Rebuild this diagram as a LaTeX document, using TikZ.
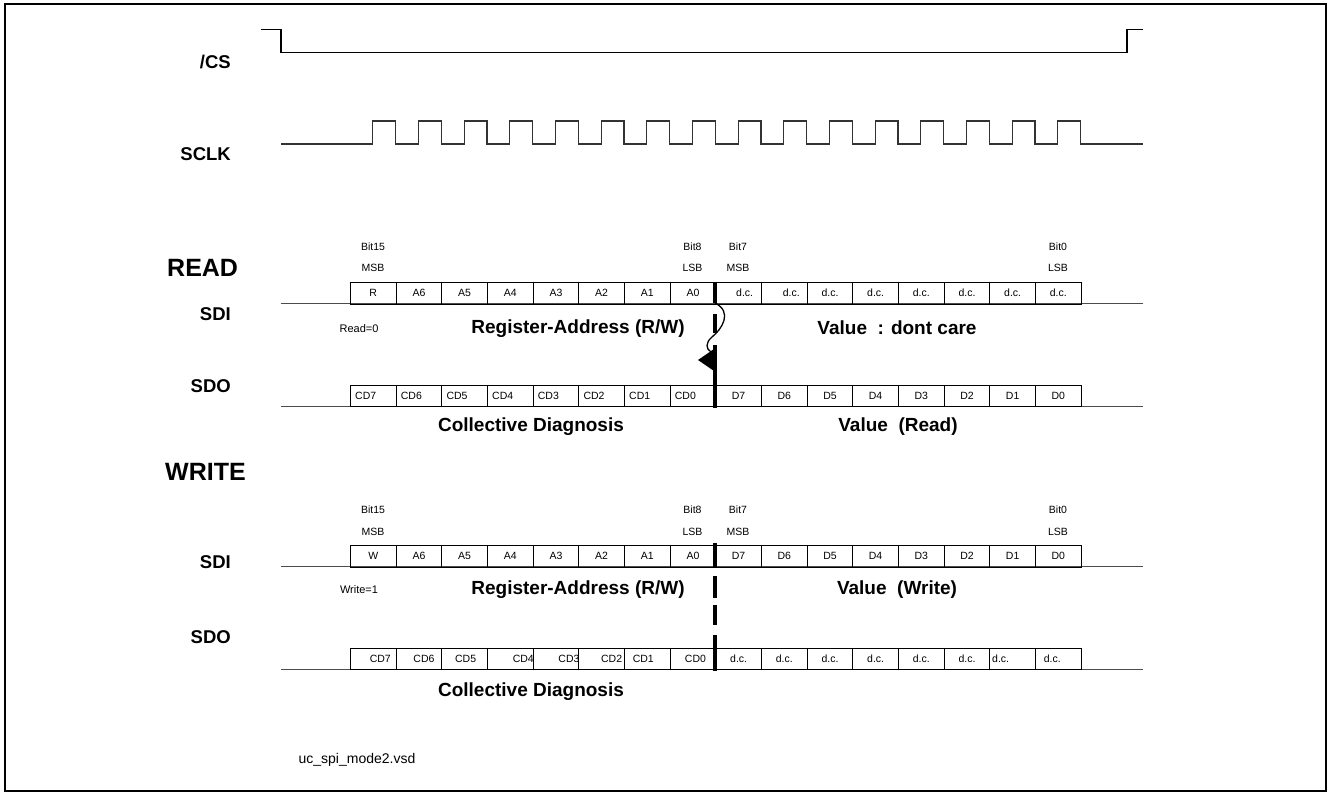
\documentclass[tikz,border=0pt]{standalone}
\usepackage{fontspec}
\setmainfont{Liberation Sans}
\usetikzlibrary{arrows.meta}
\begin{document}
\begin{tikzpicture}[x=1pt,y=-1pt,
  sig/.style={line width=1.1pt, black!80},
  base/.style={line width=1pt, black!70},
  cell/.style={draw, line width=0.9pt, minimum width=45.667pt, minimum height=21.5pt, inner sep=0pt, anchor=north west},
  ctext/.style={font=\fontsize{10.5}{12}\selectfont, inner sep=0pt},
  lbl/.style={font=\bfseries\fontsize{18.5}{20}\selectfont, inner sep=0pt},
  mid/.style={font=\bfseries\fontsize{19}{21}\selectfont, inner sep=0pt},
  mode/.style={font=\bfseries\fontsize{25}{27}\selectfont, inner sep=0pt},
  note/.style={font=\fontsize{11}{12}\selectfont, inner sep=0pt},
  thickbar/.style={line width=3.5pt, black}]
\useasboundingbox (0,0) rectangle (1331,792);
\draw[line width=2pt] (5,4) rectangle (1326,791);

% signal labels
\node[lbl, anchor=east] (lcs) at (231,62) {/CS};
\node[lbl, anchor=east] (lclk) at (231,154) {SCLK};
\node[mode, anchor=west] (lread) at (167,268) {READ};
\node[lbl, anchor=east] (lsdi1) at (231,314) {SDI};
\node[lbl, anchor=east] (lsdo1) at (231,386) {SDO};
\node[mode, anchor=west] (lwrite) at (165,472) {WRITE};
\node[lbl, anchor=east] (lsdi2) at (231,562) {SDI};
\node[lbl, anchor=east] (lsdo2) at (231,637) {SDO};

% /CS
\coordinate (cs0) at (261,29.5);
\coordinate (cs1) at (1143,29.5);
\draw[sig, black] (cs0) -- (281,29.5) -- (281,52.3) -- (1127,52.3) -- (1127,29.5) -- (cs1);

% SCLK
\coordinate (ck0) at (281,144);
\coordinate (ck1) at (1143,144);
\draw[sig] (ck0) foreach \k in {0,...,15} { -- ({350+(\k+0.5)*45.667},144) -- ++(0,-23) -- ({350+(\k+1)*45.667},121) -- ++(0,23) } -- (ck1);

% base lines
\foreach \n/\y in {a/303.5, b/406, c/566.5, d/669} {
  \coordinate (\n0) at (281,\y);
  \coordinate (\n1) at (1143,\y);
  \draw[base] (\n0) -- (\n1);
}

% cells
\foreach \k in {0,...,15} {
  \node[cell] (ra\k) at ({350+\k*45.667},282) {};
  \node[cell] (rb\k) at ({350+\k*45.667},384.5) {};
  \node[cell] (wa\k) at ({350+\k*45.667},545) {};
  \node[cell] (wb\k) at ({350+\k*45.667},647.5) {};
}

% READ SDI texts
\foreach \t/\dx [count=\i from 0] in {R/0,A6/0,A5/0,A4/0,A3/0,A2/0,A1/0,A0/0,d.c./6,d.c./7,d.c./0,d.c./0,d.c./0,d.c./0,d.c./0,d.c./0}
  \node[ctext] (tra\i) at ([xshift=\dx pt]ra\i.center) {\t};
% READ SDO texts
\foreach \t [count=\i from 0] in {CD7,CD6,CD5,CD4,CD3,CD2,CD1,CD0}
  \node[ctext, anchor=west] (trb\i) at ([xshift=5pt]rb\i.west) {\t};
\foreach \t [count=\i from 8] in {D7,D6,D5,D4,D3,D2,D1,D0}
  \node[ctext] (trb\i) at (rb\i.center) {\t};
% WRITE SDI texts
\foreach \t [count=\i from 0] in {W,A6,A5,A4,A3,A2,A1,A0,D7,D6,D5,D4,D3,D2,D1,D0}
  \node[ctext] (twa\i) at (wa\i.center) {\t};
% WRITE SDO texts
\foreach \t/\dx [count=\i from 0] in {CD7/7,CD6/5,CD5/1,CD4/13,CD3/13,CD2/10,CD1/-4,CD0/2.5,d.c./0,d.c./0,d.c./0,d.c./0,d.c./0,d.c./0,d.c./-12,d.c./-6}
  \node[ctext] (twb\i) at ([xshift=\dx pt]wb\i.center) {\t};

% bit labels
\foreach \y/\s in {247/r, 510/w} {
  \node[ctext] (b15\s) at (373,\y) {Bit15};
  \node[ctext] (b8\s) at (692.5,\y) {Bit8};
  \node[ctext] (b7\s) at (738,\y) {Bit7};
  \node[ctext] (b0\s) at (1058,\y) {Bit0};
}
\foreach \y/\s in {268/r, 531.5/w} {
  \node[ctext] (m15\s) at (373,\y) {MSB};
  \node[ctext] (m8\s) at (692.5,\y) {LSB};
  \node[ctext] (m7\s) at (738,\y) {MSB};
  \node[ctext] (m0\s) at (1058,\y) {LSB};
}

% middle texts
\node[note] (rd0) at (359,329) {Read=0};
\node[mid] (ra) at (578,329) {Register-Address (R/W)};
\node[mid] (rv) at (897,328) {Value\ \ : dont care};
\node[mid] (rcd) at (531,427) {Collective Diagnosis};
\node[mid] (rvr) at (898,427) {Value\ \ (Read)};
\node[note] (wr1) at (359,590) {Write=1};
\node[mid] (wra) at (578,590) {Register-Address (R/W)};
\node[mid] (wv) at (897,590) {Value\ \ (Write)};
\node[mid] (wcd) at (531,692) {Collective Diagnosis};
\node[font=\fontsize{14}{16}\selectfont, inner sep=0pt] (fn) at (357,760) {uc\_spi\_mode2.vsd};

% thick separator bars
\foreach \a/\b in {282/303, 314/333, 345/408, 543/567, 576/598, 605/625, 635/671}
  \draw[thickbar] (715,\a) -- (715,\b);

% turnaround arrow
\coordinate (ar0) at (715,303);
\coordinate (ar1) at (711,352);
\draw[line width=1.3pt] (ar0) .. controls (733,312) and (722,329) .. (712,337) .. controls (705,343) and (706,349) .. (ar1);
\fill (698,360) -- (714,349) -- (714,371) -- cycle;
\end{tikzpicture}
\end{document}
